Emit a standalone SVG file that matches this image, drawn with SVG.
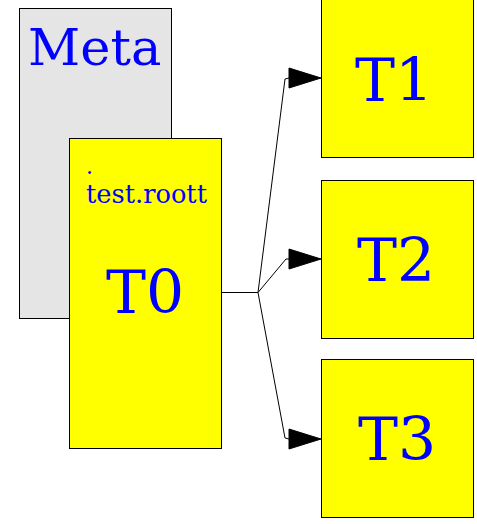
<svg xmlns="http://www.w3.org/2000/svg" width="477" height="524" viewBox="0 0 477 524">
  <style>
    .box { stroke: #000; stroke-width: 1; }
    .meta { fill: #e5e5e5; }
    .tbl { fill: #ffff00; }
    text { font-family: "DejaVu Serif", serif; fill: #0000ff; }
    .big { font-size: 60px; text-anchor: middle; }
    .edge { fill: none; stroke: #000; stroke-width: 1; }
    .head { fill: #000; stroke: #000; stroke-width: 1; }
  </style>

  <g id="meta">
    <rect class="box meta" x="19.5" y="8.5" width="152" height="310"/>
    <text x="28" y="65" font-size="51">Meta</text>
  </g>

  <g id="t0">
    <rect class="box tbl" x="69.5" y="138.5" width="152" height="310"/>
    <text x="86" y="174" font-size="22">.</text>
    <text x="86" y="203" font-size="26" textLength="121" lengthAdjust="spacingAndGlyphs">test.roott</text>
    <text class="big" x="145" y="313">T0</text>
  </g>

  <g id="t1">
    <rect class="box tbl" x="321.5" y="-0.5" width="152" height="158"/>
    <text class="big" x="394" y="101">T1</text>
  </g>

  <g id="t2">
    <rect class="box tbl" x="321.5" y="180.5" width="152" height="158"/>
    <text class="big" x="396" y="281">T2</text>
  </g>

  <g id="t3">
    <rect class="box tbl" x="321.5" y="359.5" width="152" height="158"/>
    <text class="big" x="397" y="460">T3</text>
  </g>

  <g id="connectors">
    <path class="edge" d="M221.5,292.5 H258 L285,79 L289,78"/>
    <polygon class="head" points="289,68 321,78 289,88"/>
    <path class="edge" d="M258,292.5 L286,259 L289,259"/>
    <polygon class="head" points="289,249 321,259 289,269"/>
    <path class="edge" d="M258,292.5 L285,438 L289,439"/>
    <polygon class="head" points="289,429 321,439 289,449"/>
  </g>
</svg>
